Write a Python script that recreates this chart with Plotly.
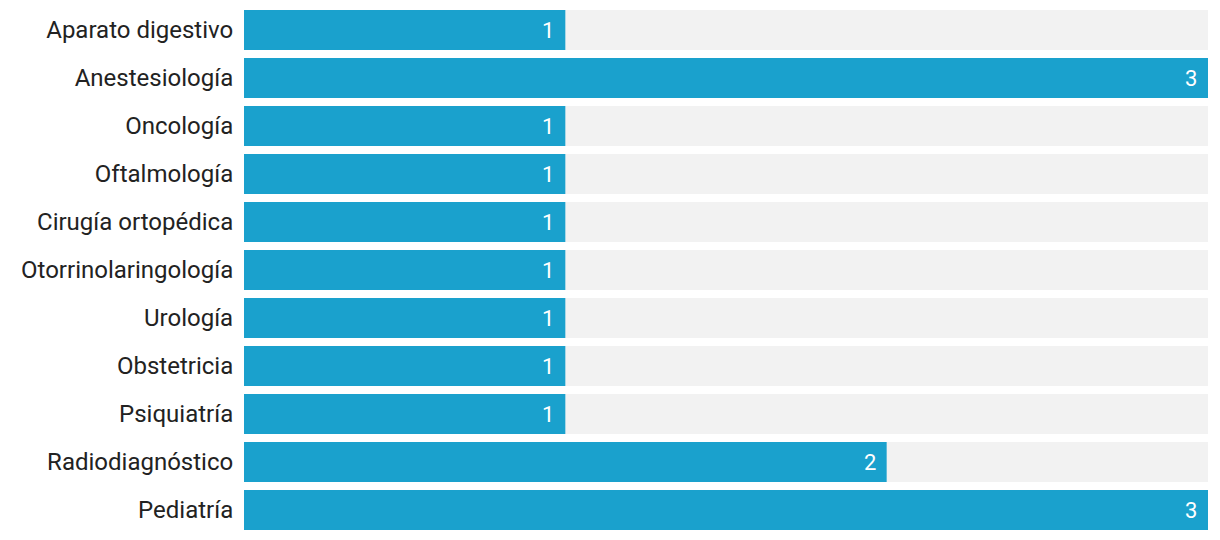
import plotly.graph_objects as go

categories = ["Aparato digestivo", "Anestesiología", "Oncología", "Oftalmología",
              "Cirugía ortopédica", "Otorrinolaringología", "Urología", "Obstetricia",
              "Psiquiatría", "Radiodiagnóstico", "Pediatría"]
values = [1, 3, 1, 1, 1, 1, 1, 1, 1, 2, 3]
max_value = max(values)

fig = go.Figure()
fig.add_trace(go.Bar(
    y=categories, x=[max_value] * len(categories), orientation="h",
    marker=dict(color="#f2f2f2", line=dict(width=0)), hoverinfo="skip", showlegend=False,
))
fig.add_trace(go.Bar(
    y=categories, x=values, orientation="h",
    marker=dict(color="#1aa1cd", line=dict(width=0)), showlegend=False,
))
for c, v in zip(categories, values):
    fig.add_annotation(x=v, y=c, text=str(v), xanchor="right", xshift=-9, showarrow=False,
                       font=dict(family="Roboto", size=22, color="white"))

fig.update_layout(
    width=1220, height=540, barmode="overlay", bargap=1/6,
    margin=dict(l=244, r=12, t=6, b=6),
    plot_bgcolor="white", paper_bgcolor="white",
    font=dict(family="Roboto", size=24, color="#222222"),
    xaxis=dict(range=[0, max_value], visible=False, fixedrange=True),
    yaxis=dict(autorange="reversed", showgrid=False, zeroline=False, showline=False,
               ticks="outside", ticklen=5, tickcolor="rgba(0,0,0,0)",
               tickfont=dict(family="Roboto", size=24, color="#222222")),
)
fig.write_html("out.html", post_script="document.body.style.margin='0';",
               config={"displayModeBar": False})
